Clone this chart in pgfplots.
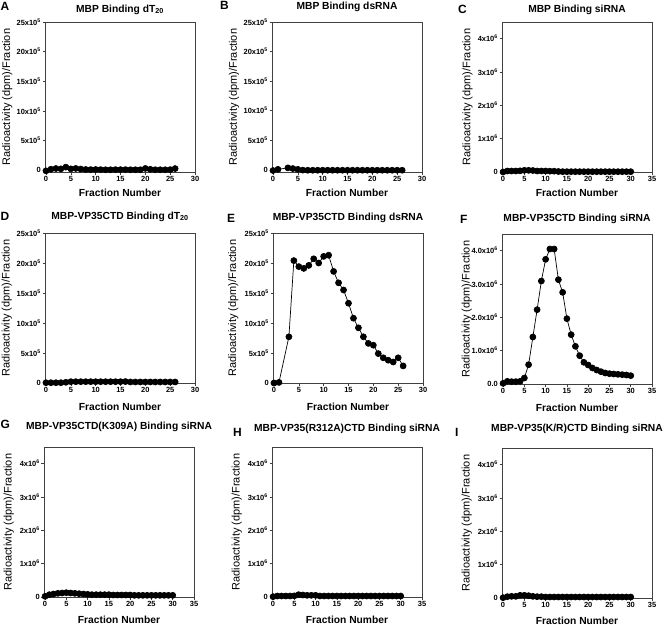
\documentclass[border=0pt]{standalone}
\usepackage{fontspec}
\setmainfont{Liberation Sans}
\usepackage{pgfplots}
\pgfplotsset{compat=1.18}
\pgfplotsset{
  panel/.style={
    width=150bp, height=150bp, scale only axis,
    anchor=north west, clip=false,
    axis line style={draw=black!75, line width=0.8bp},
    tick pos=left, tick align=outside, major tick length=2.5bp,
    tick style={black!75, line width=0.6bp},
    ticklabel style={font=\bfseries\fontsize{7.5}{8.5}\selectfont, inner sep=1.5bp},
    /pgf/number format/assume math mode=true,
    scaled y ticks=false,
    xlabel={Fraction Number},
    xlabel style={font=\bfseries\fontsize{10.3}{12}\selectfont, anchor=center},
    ylabel={Radioactivity (dpm)/Fraction},
    ylabel style={font=\fontsize{11}{12}\selectfont, anchor=center},
    every axis title/.style={font=\bfseries\fontsize{10.3}{12}\selectfont, at={(0.5,1)}, anchor=base},
  },
  pt/.style={black, line width=0.7bp, mark=*, mark size=3bp, mark options={fill=black, draw=black, solid}},
  xa/.style={xmin=-0.2, xmax=30, xtick={0,5,...,30}},
  xb/.style={xmin=-0.25, xmax=35, xtick={0,5,...,35}},
  ya/.style={ytick={0,5e5,10e5,15e5,20e5,25e5}, ymax=25e5,
    yticklabels={0,5x10\textsuperscript{5},10x10\textsuperscript{5},15x10\textsuperscript{5},20x10\textsuperscript{5},25x10\textsuperscript{5}}},
  yb/.style={ytick={0,1e6,2e6,3e6,4e6}, ymin=0, ymax=4.5e6,
    yticklabels={0,1x10\textsuperscript{6},2x10\textsuperscript{6},3x10\textsuperscript{6},4x10\textsuperscript{6}}},
  tsh/.style={title style={yshift=#1}},
  yld/.style={ylabel style={at={(axis description cs:#1,0.5)}}},
  xld/.style={xlabel style={at={(axis description cs:0.5,#1)}}},
}
\begin{document}
\begin{tikzpicture}
\useasboundingbox (0,0) rectangle (664bp,-625bp);
\tikzset{plab/.style={anchor=base west, font=\bfseries\fontsize{12}{14}\selectfont, inner sep=0pt}}
\node[plab] at (0.5bp,-10bp) {A};
\node[plab] at (220bp,-9bp) {B};
\node[plab] at (458bp,-13bp) {C};
\node[plab] at (0.5bp,-220bp) {D};
\node[plab] at (227bp,-222bp) {E};
\node[plab] at (460bp,-223bp) {F};
\node[plab] at (0.5bp,-428bp) {G};
\node[plab] at (233bp,-436bp) {H};
\node[plab] at (455bp,-436bp) {I};

% A
\begin{axis}[panel, xa, ya, ymin=-3e4, at={(45bp,-22bp)},
  title={MBP Binding dT\textsubscript{20}}, tsh=10bp, yld=-0.251, xld=-0.14]
\addplot[pt] coordinates {(0,-1e4)(1,1.7e4)(2,2.9e4)(3,2.3e4)(4,5.2e4)(5,2.3e4)(6,3e4)(7,2e4)(8,1.2e4)(9,1e4)(10,1.2e4)(11,1e4)(12,8e3)(13,8e3)(14,1e4)(15,1e4)(16,1e4)(17,8e3)(18,8e3)(19,8e3)(20,3e4)(21,1.5e4)(22,8e3)(23,8e3)(24,8e3)(25,1e4)(26,2.8e4)};
\end{axis}

% B
\begin{axis}[panel, xa, ya, ymin=-4e4, at={(272bp,-22bp)},
  title={MBP Binding dsRNA}, tsh=12bp, yld=-0.253, xld=-0.14]
\addplot[pt] coordinates {(0,-1.5e4)(1,5e3)(3,3e4)(4,1.8e4)(5,5e3)(6,-8e3)(7,-1e4)(8,-1e4)(9,-1e4)(10,-1e4)(11,-1e4)(12,-1e4)(13,-1e4)(14,-1e4)(15,-1e4)(16,-1e4)(17,-1e4)(18,-1e4)(19,-1e4)(20,-1e4)(21,-1e4)(22,-1e4)(23,-1e4)(24,-1e4)(25,-1e4)(26,-1e4)};
\end{axis}

% C
\begin{axis}[panel, xb, yb, at={(502bp,-22bp)},
  title={MBP Binding siRNA}, tsh=9.5bp, yld=-0.229, xld=-0.14]
\addplot[pt] coordinates {(0,0)(1,3e4)(2,3e4)(3,3e4)(4,3.5e4)(5,5e4)(6,5e4)(7,4.5e4)(8,3e4)(9,3e4)(10,3e4)(11,2.5e4)(12,2.5e4)(13,1.5e4)(14,1e4)(15,1e4)(16,1e4)(17,1e4)(18,1e4)(19,1e4)(20,1e4)(21,1e4)(22,1e4)(23,1e4)(24,1e4)(25,1e4)(26,1e4)(27,1e4)(28,1e4)(29,1e4)(30,1e4)};
\end{axis}

% D
\begin{axis}[panel, xa, ya, ymin=0, at={(45bp,-233bp)},
  title={MBP-VP35CTD Binding dT\textsubscript{20}}, tsh=14bp, yld=-0.255, xld=-0.16]
\addplot[pt] coordinates {(0,5e3)(1,5e3)(2,5e3)(3,5e3)(4,1.2e4)(5,2.2e4)(6,2.2e4)(7,2.2e4)(8,2.2e4)(9,2.2e4)(10,2.2e4)(11,2.2e4)(12,2.2e4)(13,2.2e4)(14,2.2e4)(15,2.2e4)(16,2.4e4)(17,1.7e4)(18,1.7e4)(19,1.7e4)(20,1.7e4)(21,1.7e4)(22,1.7e4)(23,1.7e4)(24,1.7e4)(25,1.7e4)(26,1.7e4)};
\end{axis}

% E
\begin{axis}[panel, xa, ya, ymin=0, at={(273bp,-233bp)},
  title={MBP-VP35CTD Binding dsRNA}, tsh=12.5bp, yld=-0.265, xld=-0.16]
\addplot[pt] coordinates {(0,0)(1,1e4)(3,7.7e5)(4,20.4e5)(5,19.4e5)(6,19.1e5)(7,19.6e5)(8,20.7e5)(9,20.0e5)(10,21.1e5)(11,21.3e5)(12,18.6e5)(13,16.7e5)(14,15.5e5)(15,13.3e5)(16,10.8e5)(17,9.2e5)(18,7.7e5)(19,6.6e5)(20,6.3e5)(21,4.9e5)(22,4.2e5)(23,3.8e5)(24,3.5e5)(25,4.2e5)(26,2.85e5)};
\end{axis}

% F
\begin{axis}[panel, xb, ytick={0,1e6,2e6,3e6,4e6}, ymin=0, ymax=4.5e6,
  yticklabels={0.0,1.0x10\textsuperscript{6},2.0x10\textsuperscript{6},3.0x10\textsuperscript{6},4.0x10\textsuperscript{6}},
  at={(502bp,-234bp)},
  title={MBP-VP35CTD Binding siRNA}, tsh=13bp, yld=-0.235, xld=-0.16]
\addplot[pt] coordinates {(0,2e4)(1,8e4)(2,7e4)(3,7e4)(4,8e4)(5,1.8e5)(6,5.8e5)(7,1.41e6)(8,2.23e6)(9,3.09e6)(10,3.74e6)(11,4.05e6)(12,4.05e6)(13,3.13e6)(14,2.75e6)(15,1.96e6)(16,1.48e6)(17,1.13e6)(18,8.5e5)(19,6.5e5)(20,5.7e5)(21,4.8e5)(22,4.2e5)(23,3.7e5)(24,3.3e5)(25,3.1e5)(26,3.0e5)(27,2.9e5)(28,2.8e5)(29,2.7e5)(30,2.5e5)};
\end{axis}

% G
\begin{axis}[panel, xb, yb, at={(44bp,-447bp)},
  title={MBP-VP35CTD(K309A) Binding siRNA}, tsh=18bp, yld=-0.235, xld=-0.15]
\addplot[pt] coordinates {(0,2e4)(1,7e4)(2,9e4)(3,1.1e5)(4,1.2e5)(5,1.3e5)(6,1.2e5)(7,1.1e5)(8,1e5)(9,9e4)(10,8e4)(11,7e4)(12,7e4)(13,7e4)(14,7e4)(15,7e4)(16,6e4)(17,6e4)(18,6e4)(19,6e4)(20,6e4)(21,5e4)(22,5e4)(23,5e4)(24,5e4)(25,5e4)(26,5e4)(27,5e4)(28,5e4)(29,5e4)(30,5e4)};
\end{axis}

% H
\begin{axis}[panel, xb, yb, at={(272bp,-447bp)},
  title={MBP-VP35(R312A)CTD Binding siRNA}, tsh=16bp, yld=-0.235, xld=-0.15]
\addplot[pt] coordinates {(0,1e4)(1,3e4)(2,3e4)(3,3e4)(4,3e4)(5,3.5e4)(6,7e4)(7,6e4)(8,5e4)(9,5e4)(10,5e4)(11,3e4)(12,3e4)(13,3e4)(14,3e4)(15,3e4)(16,3e4)(17,3e4)(18,3e4)(19,3e4)(20,3e4)(21,3e4)(22,3e4)(23,3e4)(24,3e4)(25,3e4)(26,3e4)(27,3e4)(28,3e4)(29,3e4)(30,3e4)};
\end{axis}

% I
\begin{axis}[panel, xb, yb, at={(502bp,-448bp)},
  title={MBP-VP35(K/R)CTD Binding siRNA}, tsh=17bp, yld=-0.235, xld=-0.15]
\addplot[pt] coordinates {(0,1e4)(1,4e4)(2,5e4)(3,5e4)(4,8e4)(5,8e4)(6,7e4)(7,5e4)(8,4e4)(9,4e4)(10,3e4)(11,3e4)(12,3e4)(13,3e4)(14,3e4)(15,3e4)(16,3e4)(17,3e4)(18,3e4)(19,3e4)(20,3e4)(21,3e4)(22,3e4)(23,3e4)(24,3e4)(25,3e4)(26,3e4)(27,3e4)(28,3e4)(29,3e4)(30,3e4)};
\end{axis}
\end{tikzpicture}
\end{document}
